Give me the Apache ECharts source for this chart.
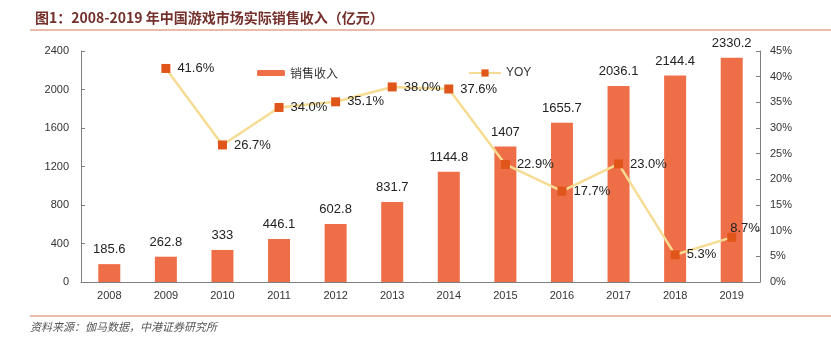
<!DOCTYPE html>
<html><head><meta charset="utf-8">
<script src="https://cdn.jsdelivr.net/npm/echarts@6/dist/echarts.min.js"></script>
<style>html,body{margin:0;padding:0;background:#fff}#c{width:831px;height:347px}</style>
</head><body><div id="c"></div>
<script>
const categories = ['2008','2009','2010','2011','2012','2013','2014','2015','2016','2017','2018','2019'];
const revenue = [185.6, 262.8, 333, 446.1, 602.8, 831.7, 1144.8, 1407, 1655.7, 2036.1, 2144.4, 2330.2];
const yoy = [null, 41.6, 26.7, 34.0, 35.1, 38.0, 37.6, 22.9, 17.7, 23.0, 5.3, 8.7];
const leftTicks = {min: 0, max: 2400, interval: 400};
const rightTicks = {min: 0, max: 45, interval: 5};
const titleText = '图1：2008-2019 年中国游戏市场实际销售收入（亿元）';
const sourceText = '资料来源：伽马数据，中港证券研究所';
const seriesNames = ['销售收入', 'YOY'];

const chart = echarts.init(document.getElementById('c'), null, {renderer: 'canvas'});
const axisColor = '#7f7f7f';
const lblFont = {color: '#333', fontSize: 11, fontFamily: 'Liberation Sans, Arial, sans-serif'};
const yoyData = yoy.map((v, i) => {
  if (v === null) return null;
  if (i === yoy.length - 1) return {value: v, label: {position: 'right', offset: [-13, -9]}};
  return v;
});
chart.setOption({
  animation: false,
  title: {
    text: titleText, left: 30, top: 6,
    textStyle: {fontSize: 14, fontWeight: 'bold', color: '#74302a', fontFamily: 'Noto Sans CJK SC, sans-serif'}
  },
  graphic: [
    {type: 'line', shape: {x1: 30, y1: 30, x2: 831, y2: 30}, style: {stroke: '#e2a48e', lineWidth: 1.5}},
    {type: 'line', shape: {x1: 30, y1: 316, x2: 831, y2: 316}, style: {stroke: '#e2a48e', lineWidth: 1.5}},
    {type: 'text', left: 30, top: 321, style: {text: sourceText, fill: '#555', font: 'italic 11px "Noto Sans CJK SC", sans-serif'}}
  ],
  legend: [
    {data: [seriesNames[0]], left: 252, top: 62, itemWidth: 28, itemHeight: 6, itemGap: 4,
     textStyle: {fontSize: 12, color: '#333', fontFamily: 'Noto Sans CJK SC, sans-serif'}},
    {data: [seriesNames[1]], left: 463, top: 62, itemWidth: 32, itemHeight: 9,
     textStyle: {fontSize: 12, color: '#333', fontFamily: 'Liberation Sans, Arial, sans-serif'}}
  ],
  grid: {left: 81, right: 71, top: 51, bottom: 65, containLabel: false},
  xAxis: {
    type: 'category', data: categories,
    axisLine: {lineStyle: {color: axisColor}},
    axisTick: {inside: true, length: 4, lineStyle: {color: axisColor}},
    axisLabel: Object.assign({margin: 8}, lblFont)
  },
  yAxis: [
    {type: 'value', min: leftTicks.min, max: leftTicks.max, interval: leftTicks.interval,
     axisLine: {show: true, lineStyle: {color: axisColor}},
     axisTick: {show: true, inside: true, length: 4, lineStyle: {color: axisColor}},
     splitLine: {show: false},
     axisLabel: Object.assign({margin: 12, formatter: v => String(v)}, lblFont)},
    {type: 'value', min: rightTicks.min, max: rightTicks.max, interval: rightTicks.interval,
     axisLine: {show: true, lineStyle: {color: axisColor}},
     axisTick: {show: true, inside: true, length: 4, lineStyle: {color: axisColor}},
     splitLine: {show: false},
     axisLabel: Object.assign({margin: 10, formatter: '{value}%'}, lblFont)}
  ],
  series: [
    {name: seriesNames[0], type: 'bar', data: revenue, barWidth: 22,
     itemStyle: {color: '#ee6e48'},
     label: {show: true, position: 'top', distance: 8, color: '#222', fontSize: 13,
             fontFamily: 'Liberation Sans, Arial, sans-serif'}},
    {name: seriesNames[1], type: 'line', yAxisIndex: 1, data: yoyData, connectNulls: false,
     lineStyle: {color: '#f6dc92', width: 2.5},
     itemStyle: {color: '#e0561a'},
     symbol: 'rect', symbolSize: 9,
     label: {show: true, position: 'right', distance: 7, color: '#222', fontSize: 13,
             fontFamily: 'Liberation Sans, Arial, sans-serif',
             formatter: p => p.value.toFixed(1) + '%'}}
  ]
});
</script></body></html>
